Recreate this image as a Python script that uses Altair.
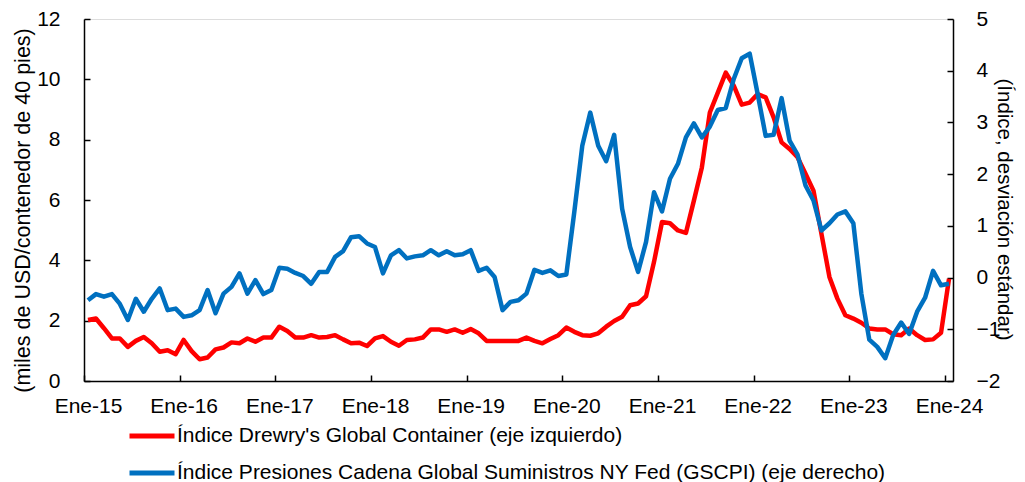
import altair as alt
import pandas as pd

# ---- data (monthly, Jan-2015 .. Jan-2024) ----
drewry = [
    2.02, 2.07, 1.75, 1.41, 1.41, 1.13, 1.33, 1.46, 1.25, 0.97, 1.02, 0.89,
    1.36, 0.99, 0.72, 0.78, 1.05, 1.11, 1.28, 1.25, 1.41, 1.30, 1.44, 1.44,
    1.80, 1.66, 1.44, 1.44, 1.52, 1.44, 1.46, 1.52, 1.38, 1.25, 1.27, 1.16,
    1.41, 1.49, 1.30, 1.17, 1.36, 1.38, 1.44, 1.71, 1.71, 1.63, 1.71, 1.60,
    1.72, 1.58, 1.33, 1.33, 1.33, 1.33, 1.33, 1.44, 1.33, 1.25, 1.39, 1.52,
    1.77, 1.63, 1.52, 1.50, 1.58, 1.80, 1.99, 2.13, 2.51, 2.57, 2.81, 3.95,
    5.27, 5.23, 4.99, 4.91, 5.98, 7.08, 8.90, 9.56, 10.22, 9.79, 9.16, 9.23,
    9.51, 9.40, 8.74, 7.91, 7.69, 7.42, 6.87, 6.31, 4.88, 3.45, 2.73, 2.18,
    2.07, 1.93, 1.74, 1.71, 1.71, 1.55, 1.52, 1.74, 1.52, 1.36, 1.38, 1.60,
    3.39,
]
gscpi = [
    -0.44, -0.32, -0.37, -0.32, -0.51, -0.82, -0.41, -0.66, -0.41, -0.21, -0.63, -0.60,
    -0.76, -0.73, -0.63, -0.24, -0.69, -0.31, -0.18, 0.08, -0.31, -0.05, -0.32, -0.24,
    0.19, 0.17, 0.09, 0.03, -0.12, 0.11, 0.11, 0.40, 0.51, 0.78, 0.80, 0.66,
    0.59, 0.08, 0.43, 0.53, 0.37, 0.41, 0.43, 0.53, 0.43, 0.51, 0.43, 0.45,
    0.53, 0.13, 0.19, 0.01, -0.63, -0.47, -0.44, -0.31, 0.15, 0.09, 0.14, 0.03,
    0.06, 1.27, 2.55, 3.19, 2.55, 2.25, 2.76, 1.33, 0.59, 0.11, 0.69, 1.65,
    1.28, 1.91, 2.20, 2.71, 2.98, 2.71, 2.92, 3.24, 3.28, 3.84, 4.24, 4.33,
    3.55, 2.74, 2.76, 3.47, 2.65, 2.38, 1.78, 1.49, 0.91, 1.05, 1.22, 1.28,
    1.05, -0.31, -1.20, -1.34, -1.56, -1.11, -0.87, -1.09, -0.66, -0.39, 0.13, -0.15,
    -0.12,
]
months = list(range(len(drewry)))
tick_months = [0, 12, 24, 36, 48, 60, 72, 84, 96, 108]
tick_labels = ["Ene-15", "Ene-16", "Ene-17", "Ene-18", "Ene-19",
               "Ene-20", "Ene-21", "Ene-22", "Ene-23", "Ene-24"]
left_ticks = [0, 2, 4, 6, 8, 10, 12]
right_ticks = [-2, -1, 0, 1, 2, 3, 4, 5]
label_red = "Índice Drewry's Global Container (eje izquierdo)"
label_blue = "Índice Presiones Cadena Global Suministros NY Fed (GSCPI) (eje derecho)"
title_left = "(miles de USD/contenedor de 40 pies)"
title_right = "(Índice, desviación estándar)"

df = pd.DataFrame({
    "m": months * 2,
    "value": drewry + gscpi,
    "serie": [label_red] * len(drewry) + [label_blue] * len(gscpi),
})

FONT = "Liberation Sans"
W, H = 869, 362

label_arr = "[" + ",".join("'%s'" % t for t in tick_labels) + "]"
x_enc = alt.X(
    "xm:Q",
    scale=alt.Scale(domain=[0, 109], nice=False, zero=False),
    axis=alt.Axis(
        values=tick_months,
        labelExpr=label_arr + "[round(datum.value / 12)]",
        title=None, grid=False,
        tickSize=alt.ExprRef(expr="-6"), tickColor="black", tickWidth=1.5,
        domainColor="black", domainWidth=1.5,
        labelFont=FONT, labelFontSize=21, labelColor="black",
        labelPadding=20, labelOffset=4, labelOverlap=False, labelFlush=False,
    ),
)

color_enc = alt.Color(
    "serie:N",
    scale=alt.Scale(domain=[label_red, label_blue], range=["#FF0000", "#0070C0"]),
    legend=alt.Legend(
        title=None, orient="none", legendX=43, legendY=392,
        direction="vertical", symbolType="stroke", symbolSize=2025,
        symbolStrokeWidth=5, labelFont=FONT, labelFontSize=21,
        labelColor="black", labelOffset=0, rowPadding=2, labelLimit=0,
    ),
)

base = alt.Chart(df).transform_calculate(xm="datum.m + 0.5")

red = base.transform_filter(alt.datum.serie == label_red).mark_line(
    strokeWidth=4.5, strokeJoin="round"
).encode(
    x=x_enc,
    y=alt.Y(
        "value:Q",
        scale=alt.Scale(domain=[0, 12], nice=False, zero=False),
        axis=alt.Axis(
            orient="left", values=left_ticks, grid=False,
            title=title_left, titleFont=FONT, titleFontSize=21.5,
            titleFontWeight="normal", titleColor="black",
            titleX=-61, titleY=191, titleAngle=270, titleBaseline="middle",
            tickSize=alt.ExprRef(expr="-6"), tickColor="black", tickWidth=1.5,
            domainColor="black", domainWidth=1.5,
            labelFont=FONT, labelFontSize=21, labelColor="black",
            labelPadding=30,
        ),
    ),
    color=color_enc,
)

blue = base.transform_filter(alt.datum.serie == label_blue).mark_line(
    strokeWidth=4.5, strokeJoin="round"
).encode(
    x=x_enc,
    y=alt.Y(
        "value:Q",
        scale=alt.Scale(domain=[-2, 5], nice=False, zero=False),
        axis=alt.Axis(
            orient="right", values=right_ticks, grid=False,
            title=title_right, titleFont=FONT, titleFontSize=20.5,
            titleFontWeight="normal", titleColor="black",
            titleX=50, titleY=190, titleAngle=90, titleBaseline="middle",
            tickSize=alt.ExprRef(expr="-6"), tickColor="black", tickWidth=1.5,
            domainColor="black", domainWidth=1.5,
            labelFont=FONT, labelFontSize=21, labelColor="black",
            labelPadding=29,
        ),
    ),
    color=color_enc,
)

chart = alt.layer(red, blue).resolve_scale(y="independent").properties(
    width=W, height=H,
    autosize=alt.AutoSizeParams(type="none"),
    padding={"left": 76, "top": 11, "right": 64, "bottom": 101},
).configure_view(stroke=None).configure(background="white")

chart.save("out.html", embed_options={"renderer": "svg", "actions": False})
